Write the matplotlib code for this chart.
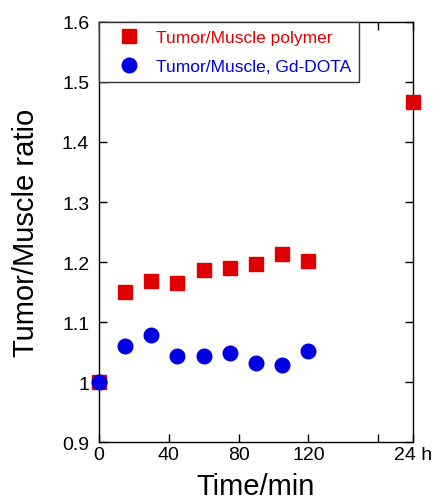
import matplotlib
matplotlib.use("Agg")
import matplotlib.pyplot as plt

plt.rcParams['font.family'] = ['Liberation Sans', 'DejaVu Sans']

# time points (min); 24 h point is drawn at the right edge (180)
t_min = [0, 15, 30, 45, 60, 75, 90, 105, 120]
t_24h = 180
polymer = [1.0, 1.150, 1.169, 1.165, 1.186, 1.190, 1.196, 1.213, 1.202]
polymer_24h = 1.467
gd_dota = [1.0, 1.060, 1.079, 1.044, 1.044, 1.048, 1.032, 1.028, 1.052]

xticks = [0, 40, 80, 120, 160, 180]
xticklabels = ["0", "40", "80", "120", "", "24 h"]
yticks = [0.9, 1.0, 1.1, 1.2, 1.3, 1.4, 1.5, 1.6]

fig = plt.figure(figsize=(4.34, 5.02), dpi=100)
ax = fig.add_axes([0.228, 0.1175, 0.7236, 0.8367])

red = "#e00000"
blue = "#0000e0"
ax.plot(t_min + [t_24h], polymer + [polymer_24h], ls="none", marker="s",
        ms=10, color=red, label="Tumor/Muscle polymer", clip_on=False, zorder=3)
ax.plot(t_min, gd_dota, ls="none", marker="o", ms=10.5, color=blue,
        label="Tumor/Muscle, Gd-DOTA", clip_on=False, zorder=4)

ax.set_xlim(0, 180)
ax.set_ylim(0.9, 1.6)
ax.set_xticks(xticks)
ax.set_xticklabels(xticklabels)
ax.set_yticks(yticks)
ax.set_yticklabels(["%g" % v for v in yticks])
ax.tick_params(direction="in", top=True, right=True, length=6, width=1,
               labelsize=14)
ax.tick_params(axis="x", pad=3)
ax.tick_params(axis="y", pad=7)
for s in ax.spines.values():
    s.set_linewidth(1)

ax.set_xlabel("Time/min", fontsize=21, labelpad=6)
ax.set_ylabel("Tumor/Muscle ratio", fontsize=21, labelpad=16)

leg = ax.legend(loc="upper left", bbox_to_anchor=(0, 1), borderaxespad=0,
                fancybox=False, edgecolor="#333333", framealpha=1,
                fontsize=12.5, handletextpad=0.25, borderpad=0.45,
                labelspacing=0.8, handlelength=2.6)
leg.get_frame().set_linewidth(1)
leg.texts[0].set_color(red)
leg.texts[1].set_color(blue)

fig.savefig("out.png", dpi=100)
